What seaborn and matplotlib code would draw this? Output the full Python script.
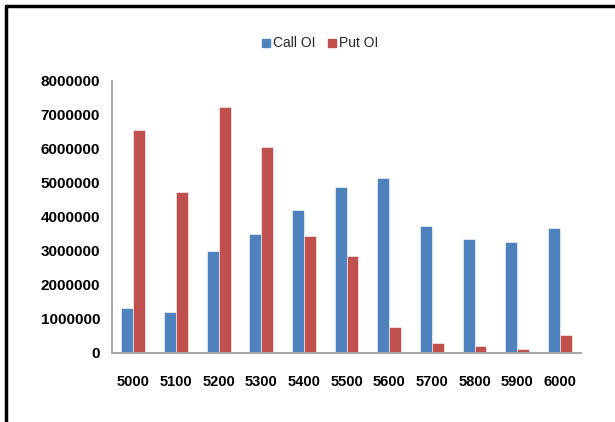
import matplotlib
matplotlib.use("Agg")
import matplotlib.pyplot as plt
import seaborn as sns
import pandas as pd
from matplotlib.lines import Line2D

strikes = ["5000", "5100", "5200", "5300", "5400", "5500", "5600", "5700", "5800", "5900", "6000"]
call_oi = [1330000, 1210000, 2990000, 3490000, 4190000, 4880000, 5140000, 3740000, 3340000, 3250000, 3680000]
put_oi = [6540000, 4740000, 7230000, 6060000, 3420000, 2840000, 745000, 290000, 200000, 120000, 520000]
series = ["Call OI", "Put OI"]
colors = ["#4F81BD", "#C0504D"]
yticks = [0, 1000000, 2000000, 3000000, 4000000, 5000000, 6000000, 7000000, 8000000]

df = pd.DataFrame({
    "strike": strikes * 2,
    "series": [series[0]] * len(strikes) + [series[1]] * len(strikes),
    "value": call_oi + put_oi,
})

sns.set_theme(style="white")
plt.rcParams["font.family"] = ["Liberation Sans", "DejaVu Sans"]

fig = plt.figure(figsize=(6.15, 4.22), dpi=100)
ax = fig.add_axes([0.182, 0.164, 0.763, 0.645])

sns.barplot(data=df, x="strike", y="value", hue="series", order=strikes,
            hue_order=series, palette=colors, width=0.56, ax=ax,
            edgecolor="white", linewidth=0.4, saturation=1, legend=False)

ax.set_ylim(0, 8000000)
ax.set_yticks(yticks)
ax.set_yticklabels([str(v) for v in yticks], fontsize=11, fontweight="bold")
ax.set_xticks(range(len(strikes)))
ax.set_xticklabels(strikes, fontsize=10.5, fontweight="bold")
ax.tick_params(axis="both", length=0, colors="black")
ax.tick_params(axis="y", pad=8.5)
ax.tick_params(axis="x", pad=16)
ax.set_xlabel("")
ax.set_ylabel("")
for s in ["top", "right"]:
    ax.spines[s].set_visible(False)
for s in ["left", "bottom"]:
    ax.spines[s].set_color("#A6A6A6")
    ax.spines[s].set_linewidth(1.4)
ax.set_xlim(-0.5, len(strikes) - 0.5)

handles = [Line2D([0], [0], marker="s", linestyle="", markersize=6,
                  markerfacecolor=c, markeredgecolor=c) for c in colors]
fig.legend(handles, series, loc="center", bbox_to_anchor=(0.52, 0.897),
           ncol=2, frameon=False, fontsize=10, handletextpad=0.1,
           columnspacing=0.8, handlelength=0.8)

# outer border (top and left)
fig.add_artist(Line2D([0.01, 1.0], [0.985, 0.985], color="black", linewidth=2.5,
                      transform=fig.transFigure))
fig.add_artist(Line2D([0.01, 0.01], [0.0, 0.985], color="black", linewidth=2.5,
                      transform=fig.transFigure))

fig.savefig("out.png", dpi=100)
